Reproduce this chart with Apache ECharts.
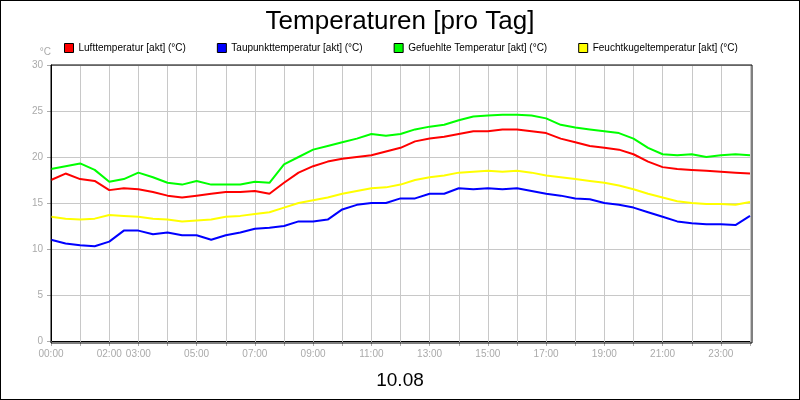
<!DOCTYPE html>
<html lang="de" style="height: 100%">
  <head>
    <meta charset="utf-8" />
  </head>
  <body style="margin: 0; height: 100%">
    <div id="container" style="width: 798px; height: 398px; border: 1px solid #000"></div>
    <script type="text/javascript" src="https://cdn.jsdelivr.net/npm/echarts@6/dist/echarts.min.js"></script>
    <script type="text/javascript">
      // half-hourly values, 00:00 .. 24:00
      var hours = [];
      for (var i = 0; i <= 48; i++) hours.push(i / 2);

      var luft = [17.5, 18.2, 17.6, 17.4, 16.4, 16.6, 16.5, 16.2, 15.8, 15.6, 15.8, 16.0, 16.2, 16.2, 16.3, 16.0,
        17.2, 18.3, 19.0, 19.5, 19.8, 20.0, 20.2, 20.6, 21.0, 21.7, 22.0, 22.2, 22.5, 22.8, 22.8, 23.0,
        23.0, 22.8, 22.6, 22.0, 21.6, 21.2, 21.0, 20.8, 20.3, 19.5, 18.9, 18.7, 18.6, 18.5, 18.4, 18.3, 18.2];
      var taupunkt = [11.0, 10.6, 10.4, 10.3, 10.8, 12.0, 12.0, 11.6, 11.8, 11.5, 11.5, 11.0, 11.5, 11.8, 12.2, 12.3,
        12.5, 13.0, 13.0, 13.2, 14.3, 14.8, 15.0, 15.0, 15.5, 15.5, 16.0, 16.0, 16.6, 16.5, 16.6, 16.5,
        16.6, 16.3, 16.0, 15.8, 15.5, 15.4, 15.0, 14.8, 14.5, 14.0, 13.5, 13.0, 12.8, 12.7, 12.7, 12.6, 13.6];
      var gefuehlt = [18.7, 19.0, 19.3, 18.6, 17.3, 17.6, 18.3, 17.8, 17.2, 17.0, 17.4, 17.0, 17.0, 17.0, 17.3, 17.2,
        19.2, 20.0, 20.8, 21.2, 21.6, 22.0, 22.5, 22.3, 22.5, 23.0, 23.3, 23.5, 24.0, 24.4, 24.5, 24.6,
        24.6, 24.5, 24.2, 23.5, 23.2, 23.0, 22.8, 22.6, 22.0, 21.0, 20.3, 20.2, 20.3, 20.0, 20.2, 20.3, 20.2];
      var feuchtkugel = [13.5, 13.3, 13.2, 13.3, 13.7, 13.6, 13.5, 13.3, 13.2, 13.0, 13.1, 13.2, 13.5, 13.6, 13.8, 14.0,
        14.5, 15.0, 15.3, 15.6, 16.0, 16.3, 16.6, 16.7, 17.0, 17.5, 17.8, 18.0, 18.3, 18.4, 18.5, 18.4,
        18.5, 18.3, 18.0, 17.8, 17.6, 17.4, 17.2, 16.9, 16.5, 16.0, 15.6, 15.2, 15.0, 14.9, 14.9, 14.8, 15.1];
      var shownHours = [0, 2, 3, 5, 7, 9, 11, 13, 15, 17, 19, 21, 23];

      function pairs(vals) {
        return vals.map(function (v, i) { return [hours[i], v]; });
      }

      var dom = document.getElementById("container");
      var myChart = echarts.init(dom, null, { renderer: "canvas" });

      function line(name, color, vals) {
        return {
          name: name, type: "line", data: pairs(vals), showSymbol: false,
          lineStyle: { color: color, width: 2 }, itemStyle: { color: color },
        };
      }

      var option = {
        animation: false,
        textStyle: { fontFamily: "Liberation Sans" },
        title: [
          { text: "Temperaturen [pro Tag]", left: "center", top: 3,
            textStyle: { fontSize: 26, fontWeight: "normal", color: "#000" } },
          { text: "10.08", left: "center", top: 365,
            textStyle: { fontSize: 19, fontWeight: "normal", color: "#000" } },
        ],
        legend: {
          top: 37, left: 58, itemGap: 31, itemWidth: 9, itemHeight: 9, icon: "rect",
          itemStyle: { borderColor: "#000", borderWidth: 1 },
          textStyle: { fontSize: 10, color: "#000" },
        },
        grid: { left: 50, right: 49, top: 64, bottom: 58 },
        xAxis: {
          type: "value", min: 0, max: 24, interval: 1,
          axisLine: { onZero: false, lineStyle: { color: "#000" } },
          axisTick: { show: true, length: 5, lineStyle: { color: "#aaa" } },
          axisLabel: {
            color: "#aaa", fontSize: 10,
            formatter: function (v) {
              if (shownHours.indexOf(v) < 0) return "";
              return (v < 10 ? "0" : "") + v + ":00";
            },
          },
          splitLine: { show: true, lineStyle: { color: "#c8c8c8" } },
        },
        yAxis: {
          type: "value", min: 0, max: 30, interval: 5, name: "°C",
          nameGap: 8, nameTextStyle: { color: "#aaa", fontSize: 10, align: "right" },
          axisLine: { show: true, lineStyle: { color: "#000" } },
          axisTick: { show: true, length: 4, lineStyle: { color: "#aaa" } },
          axisLabel: { color: "#aaa", fontSize: 10 },
          splitLine: { show: true, lineStyle: { color: "#c8c8c8" } },
        },
        graphic: [{
          type: "rect", shape: { x: 50, y: 64, width: 701, height: 278 },
          style: { fill: "none", stroke: "#000", lineWidth: 1 }, z: 100,
        }],
        series: [
          line("Lufttemperatur [akt] (°C)", "#ff0000", luft),
          line("Taupunkttemperatur [akt] (°C)", "#0000ff", taupunkt),
          line("Gefuehlte Temperatur [akt] (°C)", "#00ff00", gefuehlt),
          line("Feuchtkugeltemperatur [akt] (°C)", "#ffff00", feuchtkugel),
        ],
      };

      myChart.setOption(option);
      window.addEventListener("resize", myChart.resize);
    </script>
  </body>
</html>
